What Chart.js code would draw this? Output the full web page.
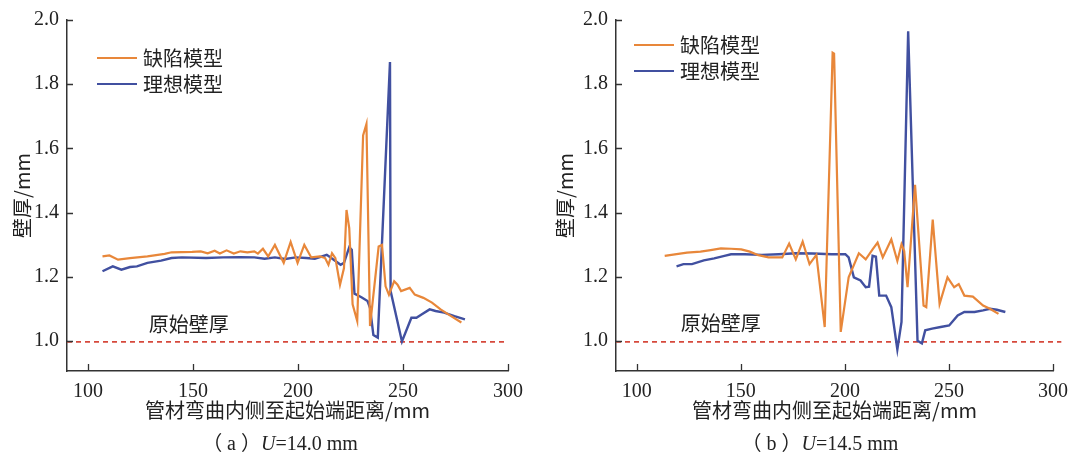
<!DOCTYPE html>
<html>
<head>
<meta charset="utf-8">
<script src="https://cdn.jsdelivr.net/npm/chart.js@4.4.1/dist/chart.umd.min.js"></script>
<style>
  body { margin: 0; background: #fff; width: 1077px; height: 454px; position: relative; overflow: hidden;
         font-family: "Liberation Serif", "Noto Sans CJK SC", serif; color: #222; }
  .box { position: absolute; top: 0; height: 454px; }
  .cap { position: absolute; top: 427px; width: 260px; text-align: center; font-size: 20px; }
</style>
</head>
<body>
<div class="box" style="left:0;width:540px"><canvas id="chartA"></canvas></div>
<div class="box" style="left:540px;width:537px"><canvas id="chartB"></canvas></div>
<div class="cap" style="left:150px">（ a ）<i>U</i>=14.0 mm</div>
<div class="cap" style="left:690px">（ b ）<i>U</i>=14.5 mm</div>
<script>
const seriesNames = ["缺陷模型", "理想模型"];
const baseLabel = "原始壁厚";
const xTitle = "管材弯曲内侧至起始端距离/mm";
const yTitle = "壁厚/mm";
const xTicks = [100, 150, 200, 250, 300];
const yTicks = [1.0, 1.2, 1.4, 1.6, 1.8, 2.0];
const baseValue = 0.997;

// (a) U=14.0 mm
const aDefectX = [106.9,110.2,114.3,120,128.3,136.5,139.8,149.6,153.7,157,160.3,162.8,166,169.4,172.6,175.9,179.2,180.9,183.3,185.8,189,193.2,196.5,199.8,203,206.3,210.4,212.9,214.5,216.2,217.8,220,221.9,223.1,224.4,226,228.2,231,232.6,234.3,238.4,240,241.7,243.3,245.8,247.4,249.1,253.2,255.6,259.7,263.8,267.9,272.9,277.8];
const aDefectY = [1.263,1.266,1.253,1.258,1.263,1.271,1.276,1.277,1.279,1.273,1.281,1.272,1.282,1.272,1.279,1.276,1.279,1.272,1.287,1.263,1.299,1.243,1.308,1.243,1.299,1.26,1.263,1.258,1.237,1.273,1.258,1.175,1.227,1.408,1.351,1.114,1.062,1.64,1.676,1.046,1.294,1.299,1.17,1.144,1.186,1.175,1.155,1.165,1.144,1.134,1.119,1.098,1.077,1.057];
const aIdealX = [106.9,111.8,115.9,120,123.3,128.3,134.8,139.8,144.7,156.2,164.4,172.6,179.2,184.1,189,193.9,198.9,203.9,208,213.7,217,220.3,221.9,224.4,225.6,226.9,230.2,233.1,234.3,235.9,238,243.8,244.1,249.5,254,256.4,259,262.7,265.5,269.6,274.5,279.5];
const aIdealY = [1.217,1.232,1.222,1.23,1.232,1.243,1.25,1.258,1.26,1.258,1.26,1.261,1.26,1.256,1.26,1.255,1.26,1.258,1.256,1.268,1.253,1.237,1.243,1.292,1.284,1.147,1.136,1.124,1.103,1.018,1.01,1.869,1.155,0.998,1.072,1.072,1.083,1.098,1.093,1.088,1.077,1.067];
const aBaseX = [90, 298.5];

// (b) U=14.5 mm
const bDefectX = [113.4,119.1,124.1,130.6,135.5,140.4,145.3,150.2,154.3,158.4,163.3,169.9,173.2,176.4,179.7,183,186.3,190.3,194.1,194.8,198,201.8,206.7,210,213.3,215.7,218.2,222.3,225.2,227.2,228.5,230.1,233.7,237.8,239.1,242.2,245.5,249.3,252.5,254.7,257.4,261.5,266.4,269.7,273.8];
const bDefectY = [1.265,1.27,1.275,1.278,1.283,1.288,1.287,1.285,1.278,1.267,1.26,1.26,1.303,1.254,1.309,1.239,1.268,1.043,1.898,1.895,1.028,1.198,1.273,1.254,1.285,1.306,1.26,1.316,1.249,1.301,1.28,1.167,1.486,1.11,1.105,1.378,1.115,1.198,1.167,1.177,1.141,1.138,1.11,1.1,1.084];
const bIdealX = [119.1,122.4,126.5,132.2,137.2,142.1,145.3,151.9,160.1,168.2,176.4,184.6,193.6,200.2,201.8,204.3,207.5,210,211.6,213.3,214.9,216.5,219.8,222.3,225.2,227.2,230.4,234.9,237,238.6,241.9,246,250.1,254.2,257.4,262.3,266.4,269.7,273,277.1];
const bIdealY = [1.232,1.239,1.239,1.251,1.257,1.265,1.27,1.27,1.268,1.27,1.273,1.272,1.27,1.27,1.26,1.198,1.188,1.167,1.169,1.265,1.262,1.141,1.141,1.105,0.973,1.059,1.965,1.0,0.992,1.033,1.038,1.043,1.048,1.079,1.09,1.09,1.095,1.1,1.097,1.09];
const bBaseX = [90, 304];

const ORANGE = "#e8873a";
const BLUE = "#4150a0";
const RED = "#d6493c";
const AXIS = "#333";
const serif = '"Liberation Serif", "Noto Sans CJK SC", serif';
const cjk = '"Noto Sans CJK SC", sans-serif';

function pts(xs, ys) {
  return xs.map((x, i) => ({x: x, y: ys[i]}));
}

// inward tick marks, legend and the baseline note
const extras = {
  id: "extras",
  afterDraw(chart, args, o) {
    const {ctx, chartArea: a, scales: {x, y}} = chart;
    ctx.save();
    ctx.strokeStyle = AXIS;
    ctx.lineWidth = 1.3;
    ctx.beginPath();
    x.ticks.forEach(t => {
      const px = Math.round(x.getPixelForValue(t.value)) + 0.5;
      ctx.moveTo(px, a.bottom); ctx.lineTo(px, a.bottom - 7);
    });
    y.ticks.forEach(t => {
      const py = Math.round(y.getPixelForValue(t.value)) + 0.5;
      ctx.moveTo(a.left, py); ctx.lineTo(a.left + 6, py);
    });
    ctx.stroke();

    ctx.font = "20px " + cjk;
    ctx.textBaseline = "middle";
    ctx.fillStyle = "#222";
    chart.data.datasets.slice(0, 2).forEach((ds, i) => {
      const ly = a.top + o.legendTop + i * 26;
      const lx = a.left + o.legendLeft;
      ctx.strokeStyle = ds.borderColor;
      ctx.lineWidth = 2.2;
      ctx.beginPath();
      ctx.moveTo(lx, ly); ctx.lineTo(lx + 40, ly);
      ctx.stroke();
      ctx.fillText(ds.label, lx + 46, ly);
    });

    ctx.textAlign = "center";
    ctx.fillText(baseLabel, x.getPixelForValue(o.noteX), y.getPixelForValue(o.noteY));
    ctx.restore();
  }
};

function makeChart(id, defX, defY, idX, idY, baseX, pad, yWidth, legendLeft, legendTop, noteX, noteY) {
  return new Chart(document.getElementById(id), {
    type: "line",
    data: {
      datasets: [
        {label: seriesNames[0], data: pts(defX, defY), borderColor: ORANGE, borderWidth: 2.2, pointRadius: 0, tension: 0},
        {label: seriesNames[1], data: pts(idX, idY), borderColor: BLUE, borderWidth: 2.4, pointRadius: 0, tension: 0},
        {label: baseLabel, data: pts(baseX, baseX.map(() => baseValue)), borderColor: RED, borderWidth: 1.8,
         borderDash: [5, 4], pointRadius: 0, clip: false}
      ]
    },
    options: {
      responsive: true,
      maintainAspectRatio: false,
      animation: false,
      events: [],
      layout: {padding: pad},
      plugins: {
        legend: {display: false},
        tooltip: {enabled: false},
        extras: {legendLeft: legendLeft, legendTop: legendTop, noteX: noteX, noteY: noteY}
      },
      scales: {
        x: {
          type: "linear", min: 90, max: 300,
          afterBuildTicks: s => { s.ticks = xTicks.map(v => ({value: v})); },
          afterFit: s => { s.height = 454 - pad.bottom - 371; },
          grid: {display: false, drawTicks: false},
          border: {display: true, color: AXIS, width: 1.5},
          ticks: {padding: 9, color: "#222", font: {family: serif, size: 20}},
          title: {display: true, text: xTitle, color: "#222", padding: 0, font: {family: cjk, size: 20}}
        },
        y: {
          min: 0.906, max: 2.0,
          afterBuildTicks: s => { s.ticks = yTicks.map(v => ({value: v})); },
          afterFit: s => { s.width = yWidth; },
          grid: {display: false, drawTicks: false},
          border: {display: true, color: AXIS, width: 1.5},
          ticks: {padding: 8, color: "#222", font: {family: serif, size: 20}, callback: v => v.toFixed(1)},
          title: {display: true, text: yTitle, color: "#222", padding: 0, font: {family: cjk, size: 20}}
        }
      }
    },
    plugins: [extras]
  });
}

makeChart("chartA", aDefectX, aDefectY, aIdealX, aIdealY, aBaseX,
  {left: 10, right: 32, top: 17, bottom: 32}, 57, 30, 38, 148, 1.05);
makeChart("chartB", bDefectX, bDefectY, bIdealX, bIdealY, bBaseX,
  {left: 13, right: 18, top: 17, bottom: 32}, 63, 18, 25, 140.3, 1.055);
</script>
</body>
</html>
